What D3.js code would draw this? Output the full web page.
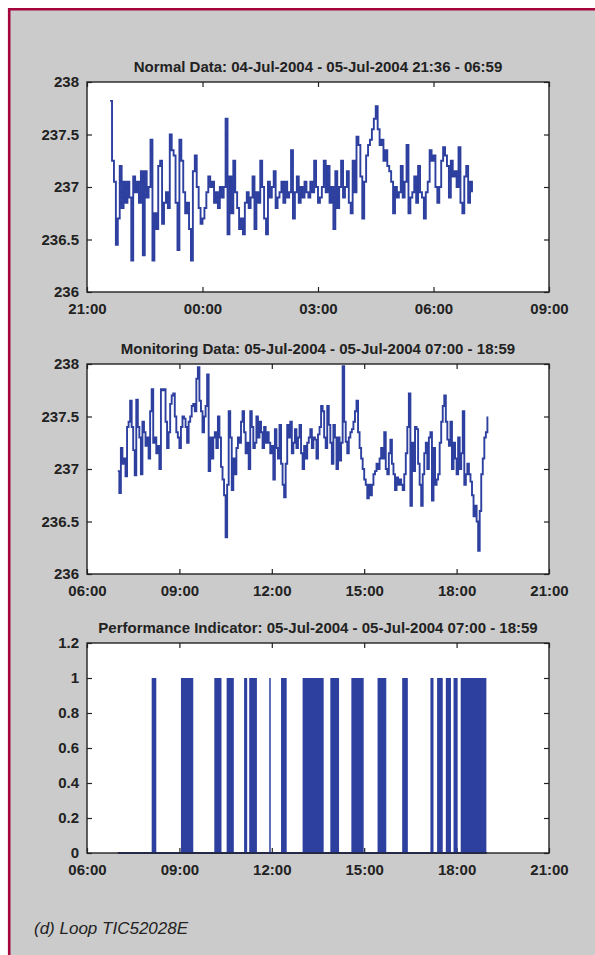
<!DOCTYPE html>
<html>
<head>
<meta charset="utf-8">
<script src="https://cdn.jsdelivr.net/npm/d3@7"></script>
<style>
  body { margin: 0; background: #fff; }
  svg text { font-family: "Liberation Sans", Arial, sans-serif; fill: #222; }
</style>
</head>
<body>
<div id="chart"></div>
<script>
// sampled every 3 minutes
const sampleMinutes = 3;

const normalStart = "2004-07-04 21:36";
const normalValues = [
  237.82, 237.25, 237.05, 236.45, 236.7, 237.2, 236.8, 237.05, 236.85, 237.05,
  236.9, 236.3, 237.1, 236.95, 237.05, 236.85, 237.15, 236.35, 237.15, 236.9,
  237.0, 237.45, 236.3, 236.75, 236.6, 237.2, 237.25, 236.65, 236.85, 236.95,
  236.8, 237.5, 237.35, 237.3, 236.85, 236.4, 237.45, 237.25, 236.95, 236.75,
  236.85, 236.6, 236.3, 237.15, 237.3, 237.0, 236.8, 236.65, 236.7, 236.8,
  236.95, 237.1, 237.0, 237.05, 236.85, 236.95, 236.8, 237.0, 236.9, 237.0,
  237.65, 236.55, 237.1, 236.75, 237.25, 236.95, 236.8, 236.6, 236.7, 236.55,
  236.85, 236.95, 236.8, 236.9, 237.1, 236.6, 236.95, 236.85, 237.25, 237.0,
  236.7, 236.55, 237.05, 236.9, 237.0, 237.15, 236.8, 236.9, 236.95, 237.05,
  236.85, 237.05, 236.9, 236.95, 237.35, 236.7, 236.95, 237.1, 236.85, 237.0,
  236.9, 237.05, 236.95, 236.9, 237.05, 236.95, 237.25, 237.0, 236.85, 236.9,
  237.0, 237.25, 236.95, 237.2, 236.85, 237.0, 236.6, 237.15, 236.8, 237.0,
  237.25, 236.9, 237.0, 237.15, 236.85, 236.75, 237.25, 236.95, 237.48, 237.4,
  237.1, 236.7, 237.05, 237.3, 237.4, 237.45, 237.55, 237.65, 237.77, 237.55,
  237.4, 237.45, 237.25, 237.35, 237.2, 237.15, 237.05, 236.75, 237.0, 236.9,
  236.95, 237.2, 236.9, 237.05, 237.4, 236.75, 236.9, 236.95, 237.1, 236.85,
  237.2, 236.95, 236.9, 236.7, 236.95, 237.05, 237.35, 237.25, 237.3, 237.0,
  236.85, 237.0, 237.25, 237.38, 237.3, 237.2, 236.9, 237.25, 237.1, 237.15,
  237.0, 237.38, 236.85, 236.75, 237.1, 237.2, 236.85, 237.05, 236.95
];

const monitorStart = "2004-07-05 07:00";
const monitorValues = [
  236.98, 236.77, 237.2, 237.05, 237.1, 236.93, 237.4, 237.45, 237.65, 237.4,
  237.18, 236.94, 237.66, 237.4, 237.3, 236.95, 237.45, 237.35, 237.22, 237.3,
  237.1, 237.55, 237.76, 237.25, 237.3, 237.15, 237.22, 237.0, 237.76, 237.75,
  237.76, 237.45, 237.2, 237.35, 237.62, 237.7, 237.72, 237.5, 237.35, 237.3,
  237.2, 237.4, 237.5, 237.48, 237.4, 237.25, 237.45, 237.5, 237.6, 237.62,
  237.55, 237.86, 237.97, 237.65, 237.55, 237.35, 237.5, 237.6, 237.9, 236.98,
  237.3, 237.1, 237.3, 237.35, 237.2, 237.5, 237.3, 237.02, 236.9, 236.75,
  236.35, 236.85, 237.55, 237.3, 236.8, 237.1, 236.95, 237.2, 237.3, 237.25,
  237.45, 237.55, 237.35, 237.15, 237.25, 237.0, 237.55, 237.4, 237.2, 237.25,
  237.5, 237.3, 237.45, 237.35, 237.2, 237.4, 237.25, 237.35, 237.25, 237.15,
  237.22, 236.9, 237.38, 237.2, 237.1, 237.42, 237.05, 236.85, 236.73, 237.05,
  237.42, 237.3, 237.45, 237.15, 237.25, 237.38, 237.2, 237.3, 237.42, 237.15,
  237.0, 237.22, 237.1, 237.25, 237.3, 237.38, 237.2, 237.3, 237.28, 237.1,
  237.33, 237.4, 237.6, 237.55, 237.3, 237.2, 237.6, 237.42, 237.25, 237.05,
  237.42, 237.3, 237.0, 237.3, 237.08, 237.25, 237.98, 237.45, 237.26, 237.15,
  237.3, 237.35, 237.38, 237.45, 237.55, 237.65, 237.35, 237.2, 237.1, 237.0,
  236.9, 236.85, 236.72, 236.85, 236.75, 236.85, 236.95, 236.98, 237.05, 237.0,
  237.1, 237.2, 237.1, 237.35, 237.0, 236.95, 237.15, 237.28, 237.05, 236.95,
  236.8, 236.92, 236.85, 236.9, 236.85, 236.8, 236.95, 237.15, 237.4, 237.72,
  236.65, 237.25, 236.98, 237.4, 237.38, 237.05, 236.85, 236.65, 236.95, 237.15,
  237.25, 237.0, 237.3, 237.35, 236.7, 237.2, 236.85, 236.9, 236.95, 237.25,
  237.45, 237.6, 237.7, 237.45, 237.28, 237.22, 237.45, 237.0, 237.25, 237.1,
  236.95, 237.3, 237.0, 237.15, 237.55, 236.85, 236.95, 237.05, 236.95, 236.88,
  236.75, 236.55, 236.65, 236.5, 236.22, 236.6, 236.95, 237.1, 237.3, 237.35,
  237.5
];

// performance indicator = 1 between these times, 0 otherwise (07:00 - 18:59)
const indicatorDay = "2004-07-05";
const indicatorSpan = ["07:00", "18:59"];
const indicatorOn = ["08:06", "09:03", "10:08", "10:32", "11:06", "11:16", "11:55", "12:18", "13:00",
                     "13:54", "14:35", "15:26", "16:14", "17:09", "17:22", "17:39", "17:54", "18:08"];
const indicatorOff = ["08:15", "09:27", "10:22", "10:46", "11:12", "11:31", "11:57", "12:29", "13:41",
                      "14:11", "14:59", "15:43", "16:25", "17:15", "17:33", "17:49", "18:02", "18:58"];

const titles = [
  "Normal Data: 04-Jul-2004 - 05-Jul-2004 21:36 - 06:59",
  "Monitoring Data: 05-Jul-2004 - 05-Jul-2004 07:00 - 18:59",
  "Performance Indicator: 05-Jul-2004 - 05-Jul-2004 07:00 - 18:59"
];
const tempTicks = [236, 236.5, 237, 237.5, 238];
const indicatorTicks = [0, 0.2, 0.4, 0.6, 0.8, 1, 1.2];
const caption = "(d) Loop TIC52028E";

const parse = d3.timeParse("%Y-%m-%d %H:%M");
const blue = "#2e409f";

const W = 595, H = 955;
const svg = d3.select("#chart").append("svg")
  .attr("width", W).attr("height", H);

// page panel with red frame on top and left
svg.append("rect").attr("x", 9).attr("y", 9).attr("width", W - 9).attr("height", H - 9)
  .attr("fill", "#cbcbcb");
svg.append("path")
  .attr("d", `M9.2,${H} V9.2 H${W}`)
  .attr("fill", "none").attr("stroke", "#a6043c").attr("stroke-width", 2.6);

const left = 87, plotW = 462, plotH = 210;

function panel(top, title, xDomain, yDomain, yTicks) {
  const g = svg.append("g").attr("transform", `translate(${left},${top})`);
  const x = d3.scaleTime().domain(xDomain).range([0, plotW]);
  const y = d3.scaleLinear().domain(yDomain).range([plotH, 0]);

  g.append("rect").attr("width", plotW).attr("height", plotH).attr("fill", "#fff");

  const xt = d3.timeHour.every(3);
  const fmt = d3.timeFormat("%H:%M");

  const ax = [
    g.append("g").attr("transform", `translate(0,${plotH})`)
      .call(d3.axisBottom(x).ticks(xt).tickFormat(fmt).tickSize(-5).tickPadding(11)),
    g.append("g")
      .call(d3.axisTop(x).ticks(xt).tickFormat("").tickSize(-5)),
    g.append("g")
      .call(d3.axisLeft(y).tickValues(yTicks).tickFormat(d3.format("")).tickSize(-5).tickPadding(8)),
    g.append("g").attr("transform", `translate(${plotW},0)`)
      .call(d3.axisRight(y).tickValues(yTicks).tickFormat("").tickSize(-5))
  ];
  ax.forEach(a => {
    a.select(".domain").remove();
    a.selectAll("line").attr("stroke", "#222").attr("stroke-width", 1.2);
    a.selectAll("text").style("font-size", "15px").style("font-weight", "bold").attr("fill", "#222");
  });
  ax[2].selectAll("text").attr("dy", "0.3em");

  svg.append("text")
    .attr("x", left + plotW / 2).attr("y", top - 10)
    .attr("text-anchor", "middle")
    .style("font-size", "15px").style("font-weight", "bold")
    .text(title);

  return { g, x, y };
}

function drawFrame(g) {
  g.append("rect").attr("width", plotW).attr("height", plotH)
    .attr("fill", "none").attr("stroke", "#222").attr("stroke-width", 1.4);
}

function seriesOf(start, values) {
  const t0 = parse(start);
  return values.map((v, i) => ({ t: d3.timeMinute.offset(t0, i * sampleMinutes), v }));
}

// 1. normal data
{
  const p = panel(82, titles[0],
    [parse("2004-07-04 21:00"), parse("2004-07-05 09:00")], [236, 238], tempTicks);
  const line = d3.line().x(d => p.x(d.t)).y(d => p.y(d.v)).curve(d3.curveStepAfter);
  p.g.append("path").datum(seriesOf(normalStart, normalValues))
    .attr("d", line).attr("fill", "none").attr("stroke", blue).attr("stroke-width", 1.9);
  drawFrame(p.g);
}

// 2. monitoring data
{
  const p = panel(364, titles[1],
    [parse("2004-07-05 06:00"), parse("2004-07-05 21:00")], [236, 238], tempTicks);
  const line = d3.line().x(d => p.x(d.t)).y(d => p.y(d.v)).curve(d3.curveStepAfter);
  p.g.append("path").datum(seriesOf(monitorStart, monitorValues))
    .attr("d", line).attr("fill", "none").attr("stroke", blue).attr("stroke-width", 1.9);
  drawFrame(p.g);
}

// 3. performance indicator
{
  const p = panel(643, titles[2],
    [parse("2004-07-05 06:00"), parse("2004-07-05 21:00")], [0, 1.2], indicatorTicks);
  const at = s => parse(`${indicatorDay} ${s}`);
  p.g.append("line")
    .attr("x1", p.x(at(indicatorSpan[0]))).attr("x2", p.x(at(indicatorSpan[1])))
    .attr("y1", p.y(0)).attr("y2", p.y(0))
    .attr("stroke", blue).attr("stroke-width", 2);
  p.g.selectAll("rect.on")
    .data(indicatorOn.map((s, i) => ({ s: at(s), e: at(indicatorOff[i]) })))
    .enter().append("rect")
    .attr("class", "on")
    .attr("x", d => p.x(d.s))
    .attr("width", d => Math.max(1.5, p.x(d.e) - p.x(d.s)))
    .attr("y", p.y(1))
    .attr("height", p.y(0) - p.y(1))
    .attr("fill", blue);
  drawFrame(p.g);
}

svg.append("text")
  .attr("x", 34).attr("y", 934)
  .style("font-size", "17px").style("font-style", "italic")
  .attr("fill", "#333")
  .text(caption);
</script>
</body>
</html>
